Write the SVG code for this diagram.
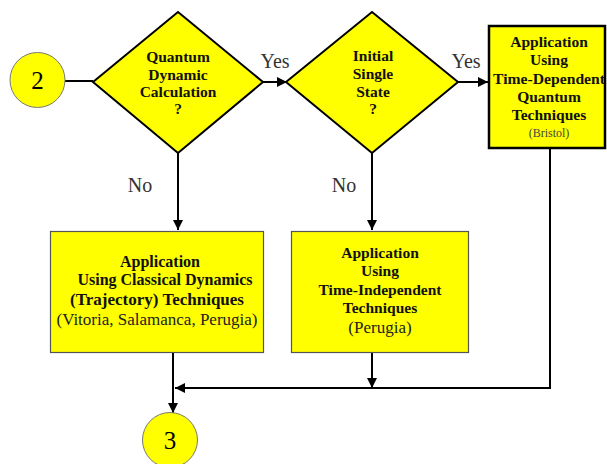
<svg xmlns="http://www.w3.org/2000/svg" width="607" height="464" viewBox="0 0 607 464" font-family="'Liberation Serif', 'Times New Roman', 'DejaVu Serif', serif">
<defs>
<marker id="arr" markerWidth="10" markerHeight="10" refX="10" refY="5" orient="auto" markerUnits="userSpaceOnUse">
<path d="M0,0 L10,5 L0,10 Z" fill="#000"/>
</marker>
<style>
.y{fill:#ffff00}
.dia{stroke:#000;stroke-width:2}
.box1{stroke:#555;stroke-width:1.2}
.box3{stroke:#000;stroke-width:2.5}
.circ{stroke:#777;stroke-width:1}
text{font-family:'Liberation Serif','Times New Roman','DejaVu Serif',serif}
.b{font-weight:bold;font-size:15.5px;fill:#111;text-anchor:middle}
.n{font-size:17px;fill:#222;text-anchor:middle}
.lbl{font-size:20px;fill:#333;text-anchor:middle}
.c{fill:none;stroke:#000;stroke-width:2}
</style>
</defs>
<rect width="607" height="464" fill="#fff"/>
<g id="connectors">
<line class="c" x1="65" y1="81" x2="93" y2="81"/>
<line class="c" x1="263" y1="82" x2="287" y2="82" marker-end="url(#arr)"/>
<line class="c" x1="458" y1="82" x2="488" y2="82" marker-end="url(#arr)"/>
<line class="c" x1="178" y1="153" x2="178" y2="230" marker-end="url(#arr)"/>
<line class="c" x1="372" y1="153" x2="372" y2="230" marker-end="url(#arr)"/>
<line class="c" x1="372" y1="353" x2="372" y2="388" marker-end="url(#arr)"/>
<polyline class="c" points="550,148 550,388 175,388" marker-end="url(#arr)"/>
<line class="c" x1="173" y1="353" x2="173" y2="413" marker-end="url(#arr)"/>
<text class="lbl" x="275" y="68">Yes</text>
<text class="lbl" x="466" y="68">Yes</text>
<text class="lbl" x="140" y="192">No</text>
<text class="lbl" x="344" y="192">No</text>
</g>
<g id="start">
<circle class="y circ" cx="37.5" cy="80" r="27.5"/>
<text class="n" x="37.5" y="89" style="font-size:25px;fill:#000">2</text>
</g>
<g id="q1">
<polygon class="y dia" points="178,12 263,82 178,153 93,82"/>
<text class="b" x="178" y="62">Quantum</text>
<text class="b" x="178" y="80">Dynamic</text>
<text class="b" x="178" y="97">Calculation</text>
<text class="b" x="178" y="114">?</text>
</g>
<g id="q2">
<polygon class="y dia" points="372,12 458,82 372,153 286,82"/>
<text class="b" x="373" y="61">Initial</text>
<text class="b" x="373" y="79">Single</text>
<text class="b" x="373" y="97">State</text>
<text class="b" x="373" y="114">?</text>
</g>
<g id="td">
<rect class="y box3" x="489" y="26" width="116" height="122"/>
<text class="b" x="549" y="47">Application</text>
<text class="b" x="549" y="65">Using</text>
<text class="b" x="549" y="84" textLength="112" lengthAdjust="spacingAndGlyphs">Time-Dependent</text>
<text class="b" x="549" y="102">Quantum</text>
<text class="b" x="549" y="120">Techniques</text>
<text class="n" x="549" y="137" style="font-size:12px;fill:#444">(Bristol)</text>
</g>
<g id="classical">
<rect class="y box1" x="50.5" y="231.5" width="213" height="121"/>
<text class="b" x="160" y="267" style="font-size:16px">Application</text>
<text class="b" x="165" y="285" style="font-size:16px">Using Classical Dynamics</text>
<text class="b" x="157" y="305" style="font-size:17px">(Trajectory) Techniques</text>
<text class="n" x="157" y="325">(Vitoria, Salamanca, Perugia)</text>
</g>
<g id="ti">
<rect class="y box1" x="291.5" y="231.5" width="177" height="121"/>
<text class="b" x="380" y="258">Application</text>
<text class="b" x="380" y="276">Using</text>
<text class="b" x="380" y="295">Time-Independent</text>
<text class="b" x="380" y="313">Techniques</text>
<text class="n" x="380" y="333">(Perugia)</text>
</g>
<g id="end">
<circle class="y circ" cx="170" cy="440" r="27.5"/>
<text class="n" x="170" y="449" style="font-size:25px;fill:#000">3</text>
</g>
</svg>
